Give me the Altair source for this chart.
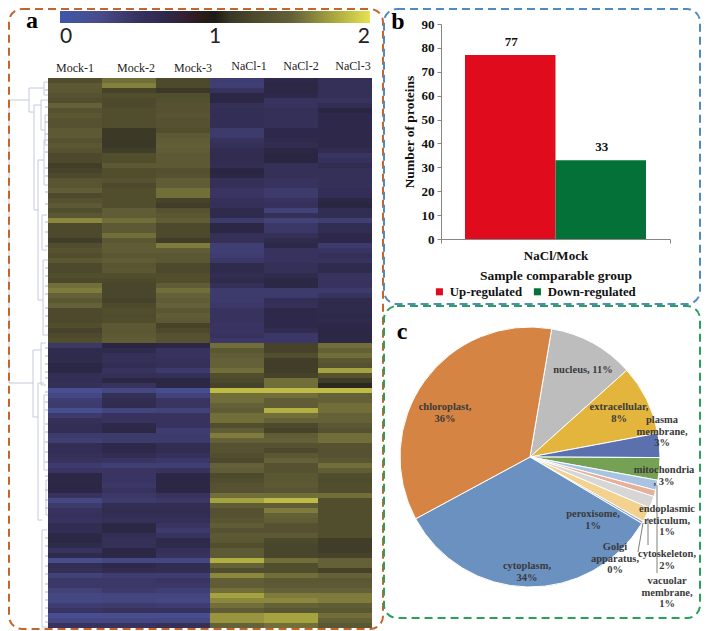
import altair as alt
import pandas as pd

# ---------- panel a: heat map values (one row of six samples per protein) ----------
samples = ["Mock-1", "Mock-2", "Mock-3", "NaCl-1", "NaCl-2", "NaCl-3"]
rows_block_1 = [
    (1.3,1.55,1.25,.4,.68,.55),(1.42,1.62,1.25,.38,.72,.55),(1.4,1.2,1.1,.5,.72,.55),
    (1.35,1.3,1.3,.72,.68,.55),(1.3,1.25,1.32,.72,.5,.5),(1.5,1.25,1.35,.55,.5,.6),
    (1.35,1.3,1.35,.58,.55,.75),(1.4,1.3,1.38,.58,.55,.68),(1.35,1.3,1.35,.58,.55,.68),
    (1.35,1.3,1.35,.58,.55,.68),(1.42,1.12,1.3,.42,.68,.68),(1.42,1.12,1.42,.42,.68,.68),
    (1.35,1.1,1.45,.5,.65,.68),(1.4,1.1,1.48,.55,.62,.68),(1.35,1.15,1.45,.6,.72,.62),
    (1.25,1.3,1.42,.62,.75,.48),(1.25,1.3,1.42,.62,.75,.52),(1.15,1.42,1.42,.6,.55,.62),
]
rows_block_2 = [
    (1.2,1.3,1.32,.75,.55,.55),(1.25,1.3,1.35,.72,.55,.55),(1.38,1.35,1.45,.55,.5,.55),
    (1.38,1.25,1.45,.55,.5,.55),(1.45,1.3,1.55,.48,.42,.58),(1.25,1.3,1.55,.48,.42,.58),
    (1.35,1.3,1.2,.52,.5,.72),(1.42,1.3,1.15,.55,.52,.75),(1.3,1.45,1.35,.65,.35,.6),
    (1.4,1.45,1.4,.65,.55,.6),(1.65,1.55,1.45,.42,.35,.38),(1.25,1.42,1.25,.72,.45,.6),
    (1.25,1.42,1.25,.72,.45,.6),(1.25,1.55,1.25,.55,.55,.68),(1.15,1.4,1.15,.55,.65,.68),
    (1.3,1.45,1.6,.38,.7,.42),(1.35,1.45,1.45,.38,.5,.48),(1.3,1.4,1.4,.4,.5,.55),
]
rows_block_3 = [
    (1.4,1.45,1.4,.45,.5,.5),(1.25,1.38,1.25,.65,.55,.65),(1.25,1.4,1.25,.65,.55,.65),
    (1.3,1.3,1.3,.6,.65,.5),(1.25,1.25,1.3,.65,.72,.5),(1.55,1.22,1.45,.55,.72,.5),
    (1.6,1.22,1.55,.42,.42,.42),(1.5,1.22,1.5,.42,.42,.5),(1.4,1.2,1.45,.42,.58,.65),
    (1.5,1.25,1.5,.45,.55,.65),(1.25,1.3,1.4,.5,.68,.65),(1.25,1.28,1.45,.5,.68,.68),
    (1.25,1.3,1.42,.5,.68,.65),(1.3,1.42,1.2,.48,.68,.7),(1.2,1.4,1.25,.48,.62,.72),
    (1.25,1.42,1.35,.5,.45,.72),(1.3,1.45,1.35,.45,.45,.7),(.45,.75,.72,1.55,1.2,1.55),
]
rows_block_4 = [
    (.65,.65,.5,1.4,1.2,1.5),(.65,.55,.5,1.45,1.3,1.55),(.65,.55,.52,1.5,1.15,1.4),
    (.72,.6,.55,1.5,1.15,1.35),(.72,.5,.42,1.55,1.15,1.75),(.58,.55,.55,1.3,1.2,1.35),
    (.58,.72,.72,1.25,1.55,1.15),(.55,.5,.72,1.2,1.55,1.05),(.2,.3,.22,1.85,1.85,1.85),
    (.3,.55,.35,1.55,1.55,1.5),(.4,.6,.48,1.55,1.45,1.5),(.42,.62,.48,1.5,1.45,1.55),
    (.22,.32,.35,1.45,1.8,1.55),(.42,.5,.5,1.55,1.55,1.5),(.55,.5,.5,1.55,1.5,1.5),
    (.58,.68,.5,1.3,1.25,1.4),(.58,.7,.4,1.45,1.2,1.35),(.42,.42,.42,1.6,1.45,1.55),
]
rows_block_5 = [
    (.38,.42,.42,1.5,1.5,1.55),(.58,.68,.6,1.35,1.35,1.35),(.58,.68,.6,1.35,1.25,1.35),
    (.55,.6,.52,1.3,1.4,1.35),(.5,.48,.45,1.25,1.5,1.4),(.42,.38,.38,1.5,1.35,1.55),
    (.48,.48,.5,1.45,1.35,1.45),(.72,.48,.72,1.25,1.4,1.3),(.7,.48,.72,1.3,1.4,1.28),
    (.72,.45,.72,1.35,1.42,1.3),(.72,.5,.72,1.35,1.38,1.3),(.5,.45,.5,1.55,1.55,1.55),
    (.3,.42,.45,1.75,1.85,1.3),(.42,.6,.6,1.45,1.45,1.3),(.5,.62,.62,1.35,1.6,1.3),
    (.52,.58,.58,1.35,1.5,1.3),(.5,.55,.55,1.38,1.45,1.3),(.6,.72,.48,1.45,1.35,1.3),
    (.6,.72,.42,1.35,1.35,1.3),
]
rows_block_6 = [
    (.7,.58,.5,1.42,1.42,1.3),(.72,.55,.68,1.4,1.25,1.15),(.65,.55,.65,1.3,1.22,1.15),
    (.5,.72,.55,1.42,1.22,1.15),(.65,.72,.5,1.42,1.22,1.2),(.25,.3,.3,1.8,1.55,1.5),
    (.6,.68,.62,1.5,1.3,1.5),(.55,.62,.6,1.3,1.3,1.2),(.35,.4,.4,1.65,1.55,1.5),
    (.45,.45,.48,1.45,1.4,1.4),(.45,.45,.45,1.45,1.42,1.42),(.35,.42,.38,1.55,1.5,1.5),
    (.3,.32,.32,1.75,1.6,1.6),(.3,.32,.3,1.65,1.65,1.6),(.4,.42,.4,1.55,1.5,1.45),
    (.48,.5,.5,1.45,1.4,1.4),(.2,.25,.22,1.7,1.75,1.55),(.3,.3,.3,1.7,1.75,1.5),
    (.5,.5,.55,1.5,1.55,1.4),
]
heat_domain = [0, .25, .5, .75, 1, 1.1, 1.25, 1.5, 1.75, 2]
heat_colors = ["#3f56a8", "#484d8c", "#37325e", "#2a2642", "#1c1b18",
               "#3a3826", "#4c492c", "#646138", "#a5a33f", "#e6e350"]

# dendrogram segments: x1, y1, x2, y2 in page pixels
dendro_segments = [
    (9,100,29,100),(9,383,33,383),(9,100,9,383),(29,88,29,112),(29,88,44,88),(29,112,34,112),
    (44,82,44,95),(44,82,48,82),(44,95,48,95),(34,105,34,210),(34,105,41,105),(34,210,38,210),
    (41,100,41,130),(41,100,48,100),(41,130,45,130),(45,115,45,145),(45,115,48,115),(45,145,48,145),
    (38,160,38,300),(38,160,44,160),(38,300,43,300),(44,140,44,185),(44,140,48,140),(44,185,48,185),
    (43,260,43,335),(43,260,48,260),(43,335,48,335),(42,215,42,250),(42,215,47,215),(42,250,47,250),
    (33,350,33,417),(33,350,41,350),(33,417,38,417),(41,343,41,385),(41,343,46,343),(41,385,46,385),
    (38,383,38,520),(38,383,44,383),(38,520,42,520),(44,395,44,470),(44,395,48,395),(44,470,48,470),
    (42,530,42,627),(42,530,47,530),(42,627,48,627),(46,480,46,515),(46,480,48,480),(46,515,48,515),
]
dendro_leaf_y = [
    90,107,122,134,152,168,176,192,204,222,232,246,268,276,286,294,308,316,326,
    348,356,364,372,378,392,402,410,424,432,442,452,462,476,490,500,508,538,546,
    556,566,574,584,592,600,608,616,622,
]

# ---------- panel b ----------
bar_group = ["NaCl/Mock", "NaCl/Mock"]
bar_series = ["Up-regulated", "Down-regulated"]
bar_values = [77, 33]
bar_colors = ["#e00b1c", "#047238"]

# ---------- panel c ----------
pie_names = ["nucleus", "extracellular", "plasma membrane", "mitochondria", "vacuolar membrane",
             "endoplasmic reticulum", "cytoskeleton2", "cytoskeleton", "peroxisome", "cytoplasm", "chloroplast"]
pie_values = [10.7, 8.7, 3.0, 2.8, 1.25, 0.8, 1.5, 1.8, 0.3, 33.6, 35.55]
pie_colors = ["#bdbdbd", "#e3b53d", "#5b70ae", "#75a155", "#a9c3e2", "#e8b09a",
              "#d6d6d6", "#f3d18f", "#8da8d2", "#6b91c0", "#d58444"]
pie_labels = ["chloroplast,\n36%", "nucleus, 11%", "extracellular,\n8%", "plasma\nmembrane,\n3%",
              "mitochondria\n, 3%", "endoplasmic\nreticulum,\n1%", "peroxisome,\n1%",
              "Golgi\napparatus,\n0%", "cytoskeleton,\n2%", "cytoplasm,\n34%", "vacuolar\nmembrane,\n1%"]
pie_label_x = [437, 575, 611, 654, 656, 659, 585, 607, 659, 519, 659]
pie_label_y = [399, 362, 399, 412, 462, 501, 506, 539, 546, 558, 573]
leader_lines = [(635, 515, 630, 544), (640, 510, 640, 537), (649, 477, 649, 565)]

W, H = 693, 622
SERIF = "Liberation Serif"

# ---------- tables ----------
all_rows = rows_block_1 + rows_block_2 + rows_block_3 + rows_block_4 + rows_block_5 + rows_block_6
heat_df = pd.DataFrame(
    [{"row": i, "sample": s, "value": v} for i, r in enumerate(all_rows) for s, v in zip(samples, r)]
)
dendro_df = pd.DataFrame(dendro_segments, columns=["x1", "y1", "x2", "y2"]) - 8
leaf_df = pd.DataFrame({"y": [y - 8 for y in dendro_leaf_y]})
bar_df = pd.DataFrame({"group": bar_group, "series": bar_series, "n": bar_values})
pie_df = pd.DataFrame({"name": pie_names, "v": pie_values, "k": list(range(len(pie_names)))})
pie_text_df = pd.DataFrame({"t": pie_labels, "x": pie_label_x, "y": pie_label_y})
pie_line_df = pd.DataFrame(leader_lines, columns=["x1", "y1", "x2", "y2"])


def px(field):
    return alt.X(field, type="quantitative", scale=None, axis=None)


def py(field):
    return alt.Y(field, type="quantitative", scale=None, axis=None)


# ---------- boxes ----------
box_df = pd.DataFrame({
    "x1": [1, 376, 376], "x2": [375, 692, 692],
    "y1": [1, 1, 298], "y2": [621, 296, 610],
    "box": ["a", "b", "c"],
})
boxes = alt.Chart(box_df).mark_rect(
    fillOpacity=0, strokeWidth=2, strokeDash=[8, 5], cornerRadius=13
).encode(
    x=px("x1"), x2="x2", y=py("y1"), y2="y2",
    stroke=alt.Stroke("box:N", scale=alt.Scale(domain=["a", "b", "c"], range=["#c4662c", "#4f8bc0", "#2aa05c"]), legend=None),
)

# ---------- panel a ----------
heat = alt.Chart(heat_df).mark_rect().encode(
    x=alt.X("sample:N", sort=samples, axis=None,
            scale=alt.Scale(domain=samples, range=[40, 364], paddingInner=0, paddingOuter=0)),
    y=alt.Y("row:O", axis=None,
            scale=alt.Scale(range=[70, 620], paddingInner=0, paddingOuter=0)),
    color=alt.Color(
        "value:Q",
        scale=alt.Scale(domain=heat_domain, range=heat_colors),
        legend=alt.Legend(
            orient="none", legendX=52, legendY=3, direction="horizontal", title=None,
            gradientLength=310, gradientThickness=12, values=[0, 1, 2], format=".0f",
            labelFont="Lato", labelFontSize=21, labelColor="#222222", labelOffset=3,
            gradientStrokeWidth=0,
        ),
    ),
)
dendro = alt.Chart(dendro_df).mark_rule(color="#c5c8e0", strokeWidth=1).encode(
    x=px("x1"), x2="x2", y=py("y1"), y2="y2"
)
dendro_leaves = alt.Chart(leaf_df).mark_rule(color="#aeb2d6", strokeWidth=1).encode(
    x=alt.value(37), x2=alt.value(40), y=py("y")
)

col_df = pd.DataFrame({"t": samples, "x": [67, 128, 185, 241, 293, 345], "y": [60, 60, 60, 58, 58, 58]})
col_text = alt.Chart(col_df).mark_text(font=SERIF, fontSize=12, color="#222222").encode(
    x=px("x"), y=py("y"), text="t:N"
)

# ---------- panel b ----------
bar_x = alt.X(
    "group:N", title="Sample comparable group",
    scale=alt.Scale(range=[433, 662], paddingInner=0, paddingOuter=0),
    axis=alt.Axis(
        offset=231 - H, labelAngle=0, tickBand="extent", tickSize=4,
        labelFont=SERIF, labelFontWeight="bold", labelFontSize=13, labelColor="#111111",
        titleFont=SERIF, titleFontWeight="bold", titleFontSize=13.5, titleColor="#111111",
        domainColor="#868686", tickColor="#868686", grid=False, labelPadding=6, titlePadding=6,
    ),
)
bar_xo = alt.XOffset(
    "series:N", sort=bar_series,
    scale=alt.Scale(domain=bar_series, range=[0, 229], paddingInner=0, paddingOuter=0.265),
)
bar_y = alt.Y(
    "n:Q", title="Number of proteins",
    scale=alt.Scale(domain=[0, 90], range=[231, 16], nice=False),
    axis=alt.Axis(
        offset=-433, values=list(range(0, 100, 10)), tickSize=4, grid=False,
        labelFont=SERIF, labelFontWeight="bold", labelFontSize=13, labelColor="#111111",
        titleFont=SERIF, titleFontWeight="bold", titleFontSize=13.5, titleColor="#111111",
        domainColor="#868686", tickColor="#868686", labelPadding=3, titlePadding=5,
    ),
)
bars = alt.Chart(bar_df).mark_bar(size=90.5).encode(
    x=bar_x, xOffset=bar_xo, y=bar_y,
    color=alt.Color(
        "series:N", sort=bar_series,
        scale=alt.Scale(domain=bar_series, range=bar_colors),
        legend=alt.Legend(
            orient="none", legendX=425, legendY=277, title=None, columns=2, direction="horizontal",
            symbolType="square", symbolSize=50, symbolStrokeWidth=0,
            labelFont=SERIF, labelFontWeight="bold", labelFontSize=12.8, labelColor="#111111",
            columnPadding=8, labelLimit=120,
        ),
    ),
)
bar_text = alt.Chart(bar_df).mark_text(
    font=SERIF, fontWeight="bold", fontSize=13, color="#111111", dy=-13
).encode(
    x=alt.X("series:N", sort=bar_series, axis=None,
            scale=alt.Scale(domain=bar_series, range=[458, 639], paddingInner=0, paddingOuter=0)),
    y=alt.Y("n:Q", axis=None, scale=alt.Scale(domain=[0, 90], range=[231, 16], nice=False)),
    text="n:Q",
)

# ---------- panel c ----------
pie = alt.Chart(pie_df).mark_arc(radius=130, stroke="#ffffff", strokeWidth=1).encode(
    theta=alt.Theta("v:Q", stack=True, scale=alt.Scale(domain=[0, sum(pie_values)], range=[0.1676, 6.4508])),
    order=alt.Order("k:Q"),
    color=alt.Color("name:N", scale=alt.Scale(domain=pie_names, range=pie_colors), legend=None),
    x=alt.value(522), y=alt.value(449),
)
pie_lines = alt.Chart(pie_line_df).mark_rule(color="#7f7f7f", strokeWidth=1).encode(
    x=px("x1"), x2="x2", y=py("y1"), y2="y2"
)
pie_text = alt.Chart(pie_text_df).mark_text(
    font=SERIF, fontWeight="bold", fontSize=10.5, color="#3a3a3a", lineBreak="\n", lineHeight=11.5, baseline="middle"
).encode(x=px("x"), y=py("y"), text="t:N")

# ---------- panel letters ----------
letter_df = pd.DataFrame({"t": ["a", "b", "c"], "x": [24, 390, 394], "y": [13, 14, 324]})
letters = alt.Chart(letter_df).mark_text(
    font=SERIF, fontWeight="bold", fontSize=24, color="#000000"
).encode(x=px("x"), y=py("y"), text="t:N")

chart = alt.layer(
    heat, dendro, dendro_leaves, col_text, boxes, bars, bar_text, pie, pie_lines, pie_text, letters
).resolve_scale(
    x="independent", y="independent", color="independent", theta="independent", stroke="independent",
    xOffset="independent",
).resolve_axis(
    x="independent", y="independent",
).properties(
    width=W, height=H, padding=0, autosize="none", background="#ffffff"
).configure_view(stroke=None)

chart.save("out.html", embed_options={"renderer": "svg", "actions": False})
